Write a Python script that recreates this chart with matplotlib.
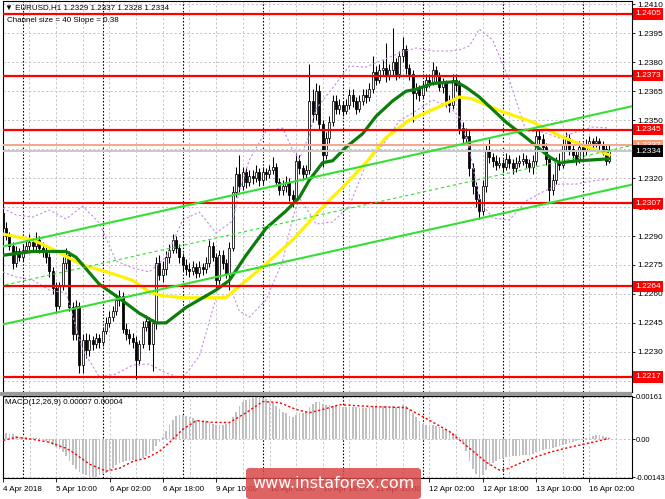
import matplotlib
matplotlib.use("Agg")
import matplotlib.pyplot as plt
import matplotlib.transforms as mtransforms
from matplotlib.patches import Rectangle, FancyBboxPatch
import numpy as np

plt.rcParams['font.family'] = ['Liberation Sans', 'DejaVu Sans']

# ---------------- data ----------------
closes = [
    1.2294, 1.2290, 1.2285, 1.2276, 1.2282, 1.2279, 1.2283, 1.2285, 1.2287, 1.2285,
    1.2288, 1.2284, 1.2282, 1.2279, 1.2272, 1.2263, 1.2254, 1.2264, 1.2276, 1.2280,
    1.2253, 1.2239, 1.2254, 1.2223, 1.2236, 1.2231, 1.2236, 1.2234, 1.2237, 1.2235,
    1.2241, 1.2245, 1.2248, 1.2251, 1.2257, 1.2259, 1.2242, 1.2239, 1.2237, 1.2235,
    1.2226, 1.2234, 1.2243, 1.2246, 1.2234, 1.2245, 1.2276, 1.2270, 1.2273, 1.2279,
    1.2283, 1.2288, 1.2284, 1.2279, 1.2275, 1.2273, 1.2272, 1.2274, 1.2271, 1.2274,
    1.2273, 1.2276, 1.2285, 1.2279, 1.2267, 1.2280, 1.2276, 1.2271, 1.2284, 1.2313,
    1.2322, 1.2316, 1.2323, 1.2318, 1.2321, 1.2320, 1.2323, 1.2319, 1.2323, 1.2322,
    1.2324, 1.2326, 1.2318, 1.2314, 1.2316, 1.2318, 1.2311, 1.2309, 1.2329, 1.2325,
    1.2322, 1.2324, 1.2360, 1.2353, 1.2365, 1.2348, 1.2332, 1.2341, 1.2349, 1.2360,
    1.2356, 1.2358, 1.2355, 1.2358, 1.2363, 1.2360, 1.2356, 1.2360, 1.2363, 1.2362,
    1.2366, 1.2375, 1.2371, 1.2376, 1.2377, 1.2373, 1.2376, 1.2380, 1.2374, 1.2383,
    1.2387, 1.2377, 1.2374, 1.2364, 1.2366, 1.2363, 1.2367, 1.2371, 1.2370, 1.2376,
    1.2373, 1.2367, 1.2369, 1.2360, 1.2358, 1.2371, 1.2368, 1.2346, 1.2341, 1.2342,
    1.2325, 1.2316, 1.2309, 1.2303, 1.2316, 1.2334, 1.2331, 1.2329, 1.2327, 1.2328,
    1.2326, 1.2330, 1.2328, 1.2325, 1.2328, 1.2329, 1.2330, 1.2328, 1.2326, 1.2329,
    1.2342, 1.2340, 1.2336, 1.2330, 1.2314, 1.2319, 1.2329, 1.2327, 1.2337, 1.2341,
    1.2335, 1.2332, 1.2330, 1.2336, 1.2334, 1.2337, 1.2339, 1.2338, 1.2339, 1.2337,
    1.2335, 1.2329, 1.2334]
highs = [
    1.2305, 1.2297, 1.2292, 1.2287, 1.2285, 1.2284, 1.2286, 1.2289, 1.2291, 1.2289,
    1.2292, 1.2290, 1.2287, 1.2285, 1.2281, 1.2274, 1.2266, 1.2266, 1.2279, 1.2284,
    1.2282, 1.2256, 1.2257, 1.2256, 1.2239, 1.2240, 1.2239, 1.2238, 1.2240, 1.2239,
    1.2243, 1.2248, 1.2251, 1.2254, 1.2260, 1.2262, 1.2261, 1.2245, 1.2242, 1.2240,
    1.2238, 1.2236, 1.2246, 1.2249, 1.2248, 1.2247, 1.2279, 1.2280, 1.2277, 1.2282,
    1.2286, 1.2291, 1.2290, 1.2286, 1.2281, 1.2278, 1.2276, 1.2277, 1.2276, 1.2277,
    1.2276, 1.2279, 1.2288, 1.2287, 1.2281, 1.2283, 1.2283, 1.2278, 1.2287, 1.2316,
    1.2326, 1.2332, 1.2326, 1.2325, 1.2324, 1.2324, 1.2327, 1.2325, 1.2326, 1.2325,
    1.2327, 1.2331, 1.2328, 1.2320, 1.2319, 1.2321, 1.2320, 1.2314, 1.2333, 1.2332,
    1.2327, 1.2327, 1.2379, 1.2366, 1.2369, 1.2368, 1.2350, 1.2344, 1.2352, 1.2363,
    1.2363, 1.2361, 1.2360, 1.2361, 1.2366, 1.2366, 1.2362, 1.2363, 1.2366, 1.2366,
    1.2369, 1.2383, 1.2378, 1.2379, 1.2381, 1.2390, 1.2379, 1.2398, 1.2382, 1.2386,
    1.2393, 1.2389, 1.2379, 1.2376, 1.2369, 1.2368, 1.2370, 1.2374, 1.2374, 1.2380,
    1.2378, 1.2375, 1.2372, 1.2371, 1.2363, 1.2374, 1.2374, 1.2371, 1.2349, 1.2346,
    1.2345, 1.2328, 1.2318, 1.2312, 1.2319, 1.2337, 1.2340, 1.2333, 1.2332, 1.2331,
    1.2330, 1.2333, 1.2332, 1.2330, 1.2331, 1.2332, 1.2333, 1.2332, 1.2330, 1.2332,
    1.2345, 1.2345, 1.2343, 1.2338, 1.2332, 1.2322, 1.2331, 1.2333, 1.2340, 1.2344,
    1.2343, 1.2337, 1.2334, 1.2339, 1.2338, 1.2340, 1.2342, 1.2341, 1.2342, 1.2341,
    1.2339, 1.2337, 1.2337]
lows = [
    1.2291, 1.2288, 1.2283, 1.2273, 1.2274, 1.2277, 1.2277, 1.2281, 1.2283, 1.2282,
    1.2283, 1.2281, 1.2279, 1.2276, 1.2269, 1.2260, 1.2250, 1.2252, 1.2262, 1.2273,
    1.2251, 1.2236, 1.2236, 1.2219, 1.2219, 1.2227, 1.2228, 1.2231, 1.2232, 1.2232,
    1.2233, 1.2239, 1.2243, 1.2246, 1.2249, 1.2254, 1.2240, 1.2236, 1.2234, 1.2232,
    1.2216, 1.2223, 1.2232, 1.2241, 1.2231, 1.2220, 1.2242, 1.2267, 1.2266, 1.2270,
    1.2276, 1.2281, 1.2281, 1.2276, 1.2272, 1.2270, 1.2269, 1.2270, 1.2268, 1.2269,
    1.2270, 1.2271, 1.2274, 1.2277, 1.2262, 1.2265, 1.2273, 1.2268, 1.2262, 1.2282,
    1.2310, 1.2313, 1.2314, 1.2315, 1.2316, 1.2317, 1.2318, 1.2316, 1.2317, 1.2319,
    1.2320, 1.2322, 1.2316, 1.2311, 1.2311, 1.2313, 1.2308, 1.2305, 1.2307, 1.2322,
    1.2319, 1.2320, 1.2322, 1.2349, 1.2350, 1.2345, 1.2326, 1.2330, 1.2338, 1.2347,
    1.2353, 1.2353, 1.2352, 1.2353, 1.2356, 1.2357, 1.2353, 1.2354, 1.2358, 1.2359,
    1.2360, 1.2364, 1.2368, 1.2369, 1.2373, 1.2370, 1.2371, 1.2373, 1.2371, 1.2372,
    1.2380, 1.2374, 1.2371, 1.2349, 1.2361, 1.2360, 1.2361, 1.2365, 1.2367, 1.2368,
    1.2370, 1.2365, 1.2364, 1.2357, 1.2354, 1.2356, 1.2365, 1.2343, 1.2337, 1.2338,
    1.2321, 1.2312, 1.2305, 1.2299, 1.2301, 1.2313, 1.2328, 1.2326, 1.2324, 1.2325,
    1.2323, 1.2324, 1.2325, 1.2322, 1.2323, 1.2326, 1.2327, 1.2325, 1.2323, 1.2322,
    1.2327, 1.2337, 1.2333, 1.2327, 1.2308, 1.2311, 1.2317, 1.2324, 1.2325, 1.2334,
    1.2332, 1.2329, 1.2327, 1.2328, 1.2331, 1.2332, 1.2335, 1.2335, 1.2336, 1.2334,
    1.2332, 1.2327, 1.2328]
first_open = 1.2302

green_idx = [0, 9, 19, 22, 29, 34, 41, 46, 49, 55, 64, 68, 73, 79, 85, 89, 92, 96, 99,
             103, 108, 112, 117, 121, 124, 129, 136, 139, 143, 151, 157, 164, 167, 173, 182]
green_val = [1.2280, 1.2282, 1.2282, 1.2279, 1.2265, 1.2259, 1.2250, 1.2245, 1.2245, 1.2253,
             1.2262, 1.2267, 1.2280, 1.2294, 1.2303, 1.2310, 1.2319, 1.2328, 1.2329, 1.2336,
             1.2343, 1.2352, 1.2360, 1.2365, 1.2366, 1.2369, 1.2370, 1.2367, 1.2362, 1.2349,
             1.2341, 1.2331, 1.2328, 1.2329, 1.2330]
yellow_idx = [0, 9, 14, 24, 32, 39, 44, 48, 55, 63, 67, 71, 78, 87, 96, 103, 109, 115,
              122, 131, 137, 141, 149, 159, 167, 174, 182]
yellow_val = [1.2291, 1.2288, 1.2284, 1.2275, 1.2271, 1.2267, 1.2261, 1.2259, 1.2258, 1.2258,
              1.2258, 1.2264, 1.2274, 1.2288, 1.2305, 1.2317, 1.2328, 1.2341, 1.2350, 1.2357,
              1.2362, 1.2361, 1.2355, 1.2349, 1.2342, 1.2337, 1.2332]
band_idx = [0, 4, 9, 14, 19, 24, 29, 34, 39, 44, 49, 54, 59, 64, 69, 71, 74, 79, 84, 87,
            89, 92, 94, 99, 104, 109, 114, 119, 124, 129, 134, 137, 140, 143, 147, 152,
            157, 162, 167, 172, 177, 182]
band_upper = [1.23045, 1.23009, 1.22998, 1.23035, 1.22988, 1.23055, 1.22967, 1.22771, 1.22734,
              1.22714, 1.22791, 1.22983, 1.23024, 1.22916, 1.22978, 1.23133, 1.23294, 1.23444,
              1.23459, 1.23346, 1.23299, 1.23423, 1.23558, 1.23667, 1.23781, 1.23775, 1.23812,
              1.23848, 1.23874, 1.23858, 1.23858, 1.23864, 1.23884, 1.23972, 1.23915, 1.23708,
              1.23444, 1.23439, 1.23408, 1.23439, 1.23465, 1.23459]
band_lower = [1.22714, 1.22688, 1.22672, 1.22620, 1.22605, 1.22310, 1.22170, 1.22185, 1.22232,
              1.22237, 1.22190, 1.22164, 1.22278, 1.22579, 1.22600, 1.22512, 1.22480, 1.22569,
              1.22771, 1.22993, 1.23097, 1.23019, 1.22962, 1.22973, 1.23055, 1.23273, 1.23371,
              1.23496, 1.23548, 1.23605, 1.23568, 1.23516, 1.23356, 1.23087, 1.22993, 1.22983,
              1.23081, 1.23128, 1.23169, 1.23169, 1.23185, 1.23195]

channel_idx = [-1, 189]
channel_upper = [1.22842, 1.23573]
channel_mid = [1.22640, 1.23370]
channel_lower = [1.22438, 1.23167]

red_levels = [1.2405, 1.2373, 1.2345, 1.2307, 1.2264, 1.2217]
ask_level = 1.2337
bid_level = 1.2334

macd_hist = [
    0.00023, 0.00023, 0.00019, 0.00019, 0.00011, 0.00008, 0.00008, 0.00008, 0.00004, 0.00004,
    0.00004, 0.00004, 0.0, -0.00008, -0.00015, -0.00023, -0.00030, -0.00038, -0.00049, -0.00064,
    -0.00083, -0.00098, -0.00113, -0.00124, -0.00131, -0.00135, -0.00143, -0.00143, -0.00143, -0.00135,
    -0.00131, -0.00128, -0.00120, -0.00109, -0.00098, -0.00090, -0.00086, -0.00083, -0.00083, -0.00079,
    -0.00079, -0.00075, -0.00071, -0.00064, -0.00056, -0.00045, -0.00026, -0.00011, 0.00008, 0.00030,
    0.00053, 0.00075, 0.00090, 0.00094, 0.00094, 0.00090, 0.00083, 0.00079, 0.00075, 0.00075,
    0.00071, 0.00068, 0.00064, 0.00060, 0.00056, 0.00053, 0.00056, 0.00060, 0.00064, 0.00083,
    0.00105, 0.00128, 0.00143, 0.00150, 0.00154, 0.00158, 0.00161, 0.00161, 0.00158, 0.00154,
    0.00146, 0.00139, 0.00128, 0.00116, 0.00105, 0.00098, 0.00090, 0.00086, 0.00094, 0.00098,
    0.00101, 0.00105, 0.00124, 0.00135, 0.00143, 0.00143, 0.00135, 0.00131, 0.00131, 0.00128,
    0.00128, 0.00128, 0.00124, 0.00124, 0.00124, 0.00124, 0.00124, 0.00120, 0.00120, 0.00120,
    0.00124, 0.00128, 0.00128, 0.00128, 0.00128, 0.00128, 0.00128, 0.00128, 0.00124, 0.00128,
    0.00131, 0.00128, 0.00113, 0.00101, 0.00086, 0.00071, 0.00060, 0.00056, 0.00056, 0.00053,
    0.00049, 0.00045, 0.00041, 0.00038, 0.00030, 0.00026, 0.00019, 0.00008, -0.00011, -0.00045,
    -0.00083, -0.00113, -0.00131, -0.00143, -0.00135, -0.00116, -0.00101, -0.00090, -0.00083, -0.00075,
    -0.00071, -0.00068, -0.00068, -0.00064, -0.00064, -0.00064, -0.00060, -0.00060, -0.00060, -0.00056,
    -0.00049, -0.00045, -0.00041, -0.00038, -0.00038, -0.00034, -0.00030, -0.00026, -0.00023, -0.00019,
    -0.00015, -0.00011, -0.00008, -0.00004, 0.0, 0.00004, 0.00008, 0.00011, 0.00015, 0.00015,
    0.00011, 0.00008, 0.00007]
signal_idx = [0, 4, 9, 14, 19, 21, 26, 31, 35, 39, 43, 47, 50, 54, 58, 63, 68, 73, 78, 83,
              88, 92, 96, 101, 111, 121, 126, 134, 139, 145, 149, 151, 158, 164, 170, 174, 178, 182]
signal_val = [-0.00004, 0.00008, 0.0, -0.00011, -0.00034, -0.00049, -0.00094, -0.00120, -0.00109,
              -0.00083, -0.00071, -0.00045, -0.00011, 0.00038, 0.00071, 0.00064, 0.00064, 0.00101,
              0.00143, 0.00139, 0.00113, 0.00101, 0.00113, 0.00131, 0.00124, 0.00120, 0.00086,
              0.00030, -0.00023, -0.00086, -0.00116, -0.00113, -0.00075, -0.00049, -0.00030,
              -0.00019, -0.00008, 0.00004]

price_ticks = [1.2215, 1.2230, 1.2245, 1.2260, 1.2275, 1.2290, 1.2305, 1.2320, 1.2335,
               1.2350, 1.2365, 1.2380, 1.2395, 1.2410]
price_tick_labels = ["1.2215", "1.2230", "1.2245", "1.2260", "1.2275", "1.2290", "1.2305",
                     "1.2320", "", "1.2350", "1.2365", "1.2380", "1.2395", "1.2410"]
date_idx = [0, 16, 32, 48, 64, 80, 96, 112, 128, 144, 160, 176]
date_labels = ["4 Apr 2018", "5 Apr 10:00", "6 Apr 02:00", "6 Apr 18:00", "9 Apr 10:00",
               "10 Apr 02:00", "10 Apr 18:00", "11 Apr 10:00", "12 Apr 02:00", "12 Apr 18:00",
               "13 Apr 10:00", "16 Apr 02:00"]
day_sep_idx = [6, 30, 54, 78, 102, 126, 150, 174]
macd_ticks = [0.00161, 0.0, -0.00143]
macd_tick_labels = ["0.00161", "0.00", "-0.00143"]

# ---------------- figure ----------------
W, H = 665, 499
fig = plt.figure(figsize=(W / 100, H / 100), dpi=100)
fig.patch.set_facecolor('white')

FS = 5.8


def fx(px):
    return px / W


def fy(py):
    return 1 - py / H


ax = fig.add_axes([fx(3), fy(392), (632 - 3) / W, (392 - 1) / H])
mx = fig.add_axes([fx(3), fy(478), (632 - 3) / W, (478 - 396) / H])

XMIN, XMAX = 0.09, 188.8
grid_kw = dict(color='#C4C4C4', lw=0.7, ls=(0, (2.2, 2.2)), zorder=0.5)
sep_kw = dict(color='black', lw=0.8, ls=(0, (1.4, 1.6)), zorder=1)

for a in (ax, mx):
    a.set_xlim(XMIN, XMAX)
    a.set_facecolor('white')
    for g in range(8, 189, 8):
        a.axvline(g, **grid_kw)
    for d in day_sep_idx:
        a.axvline(d, **sep_kw)
    for s in a.spines.values():
        s.set_color('black')
        s.set_linewidth(0.8)

# price grid
for p in price_ticks:
    ax.axhline(p, **grid_kw)
ax.set_ylim(1.220920, 1.241173)

# candles
idx = np.arange(len(closes))
c = np.array(closes)
o = np.array([first_open] + closes[:-1])
h = np.array(highs)
l = np.array(lows)
up = c >= o
ax.vlines(idx, l, h, color='black', lw=0.75, zorder=3)
bb = np.minimum(o, c)
bh = np.maximum(np.abs(c - o), 0.00004)
ax.bar(idx[up], bh[up], bottom=bb[up], width=0.6, color='white', edgecolor='black',
       linewidth=0.55, zorder=4)
ax.bar(idx[~up], bh[~up], bottom=bb[~up], width=0.6, color='black', edgecolor='black',
       linewidth=0.55, zorder=4)

# Bollinger-like bands
band_kw = dict(color='#C58BE6', lw=0.8, ls=(0, (2.0, 2.0)), zorder=5)
ax.plot(band_idx, band_upper, **band_kw)
ax.plot(band_idx, band_lower, **band_kw)

# moving averages
ax.plot(yellow_idx, yellow_val, color='#FFF200', lw=2.3, zorder=6, solid_capstyle='round')
ax.plot(green_idx, green_val, color='#0A7D0A', lw=2.3, zorder=6.5, solid_capstyle='round')

# horizontal levels
ax.axhline(bid_level, color='#C8C8C8', lw=1.4, zorder=6.8)
ax.axhline(ask_level, color='#F7A58A', lw=1.4, zorder=6.9)
for lv in red_levels:
    ax.axhline(lv, color='#FF0000', lw=1.6, zorder=7)

# channel
ch_kw = dict(color='#33E033', zorder=8)
ax.plot(channel_idx, channel_upper, lw=1.5, **ch_kw)
ax.plot(channel_idx, channel_lower, lw=1.5, **ch_kw)
ax.plot(channel_idx, channel_mid, lw=0.8, ls=(0, (3, 2.5)), **ch_kw)

# price axis
ax.yaxis.tick_right()
ax.set_yticks(price_ticks)
ax.set_yticklabels(price_tick_labels)
ax.tick_params(axis='y', direction='out', length=2.5, width=0.6, labelsize=6.0, pad=1.5,
               colors='black')
ax.tick_params(axis='x', bottom=False, labelbottom=False, top=False)

trans = mtransforms.blended_transform_factory(ax.transAxes, ax.transData)
x_lab = 1.0 + 3.5 / 629


def level_label(val, fc, tc='white'):
    ax.text(x_lab, val, f"{val:.4f}", transform=trans, ha='left', va='center', color=tc,
            fontsize=6.0, zorder=20, clip_on=False,
            bbox=dict(boxstyle='square,pad=0.25', fc=fc, ec='none'))


for lv in red_levels:
    level_label(lv, '#FF0000')
level_label(ask_level, '#F79A70')
level_label(bid_level, 'black')

# MACD panel
mx.set_ylim(-0.00146, 0.00164)
for v in macd_ticks:
    mx.axhline(v, **grid_kw)
mx.bar(idx, macd_hist, width=0.5, color='#C0C0C0', zorder=2)
mx.plot(signal_idx, signal_val, color='#FF0000', lw=1.0, ls=(0, (1.6, 1.6)), zorder=3)
mx.yaxis.tick_right()
mx.set_yticks(macd_ticks)
mx.set_yticklabels(macd_tick_labels)
mx.tick_params(axis='y', direction='out', length=2.0, width=0.6, labelsize=5.4, pad=1.0)
mx.set_xticks(date_idx)
mx.set_xticklabels(date_labels)
mx.tick_params(axis='x', direction='out', length=3, width=0.6, labelsize=FS, pad=3)
for lab in mx.get_xticklabels():
    lab.set_ha('left')

# separator between panels
fig.patches.append(Rectangle((0, fy(396)), fx(632), 4 / H, transform=fig.transFigure,
                             fc='#9A9A9A', ec='none', zorder=10))

# texts
fig.text(fx(5), fy(8), "\u25bc EURUSD,H1 1.2329 1.2337 1.2328 1.2334", fontsize=FS,
         ha='left', va='center', color='black')
fig.text(fx(7), fy(20), "Channel size = 40 Slope = 0.38", fontsize=FS, ha='left',
         va='center', color='black')
fig.text(fx(5), fy(402), "MACD(12,26,9) 0.00007 0.00004", fontsize=FS, ha='left',
         va='center', color='black')

# watermark
wm = FancyBboxPatch((fx(246), 0), fx(421) - fx(246), (499 - 468) / H,
                    boxstyle='round,pad=0,rounding_size=0.006', transform=fig.transFigure,
                    fc='#D94848', ec='none', alpha=0.85, zorder=30)
fig.patches.append(wm)
fig.text(fx(333), fy(484), "www.instaforex.com", color='white', fontsize=11.5,
         family='DejaVu Sans', ha='center', va='center', zorder=31)

fig.savefig("out.png", dpi=100, facecolor='white')
